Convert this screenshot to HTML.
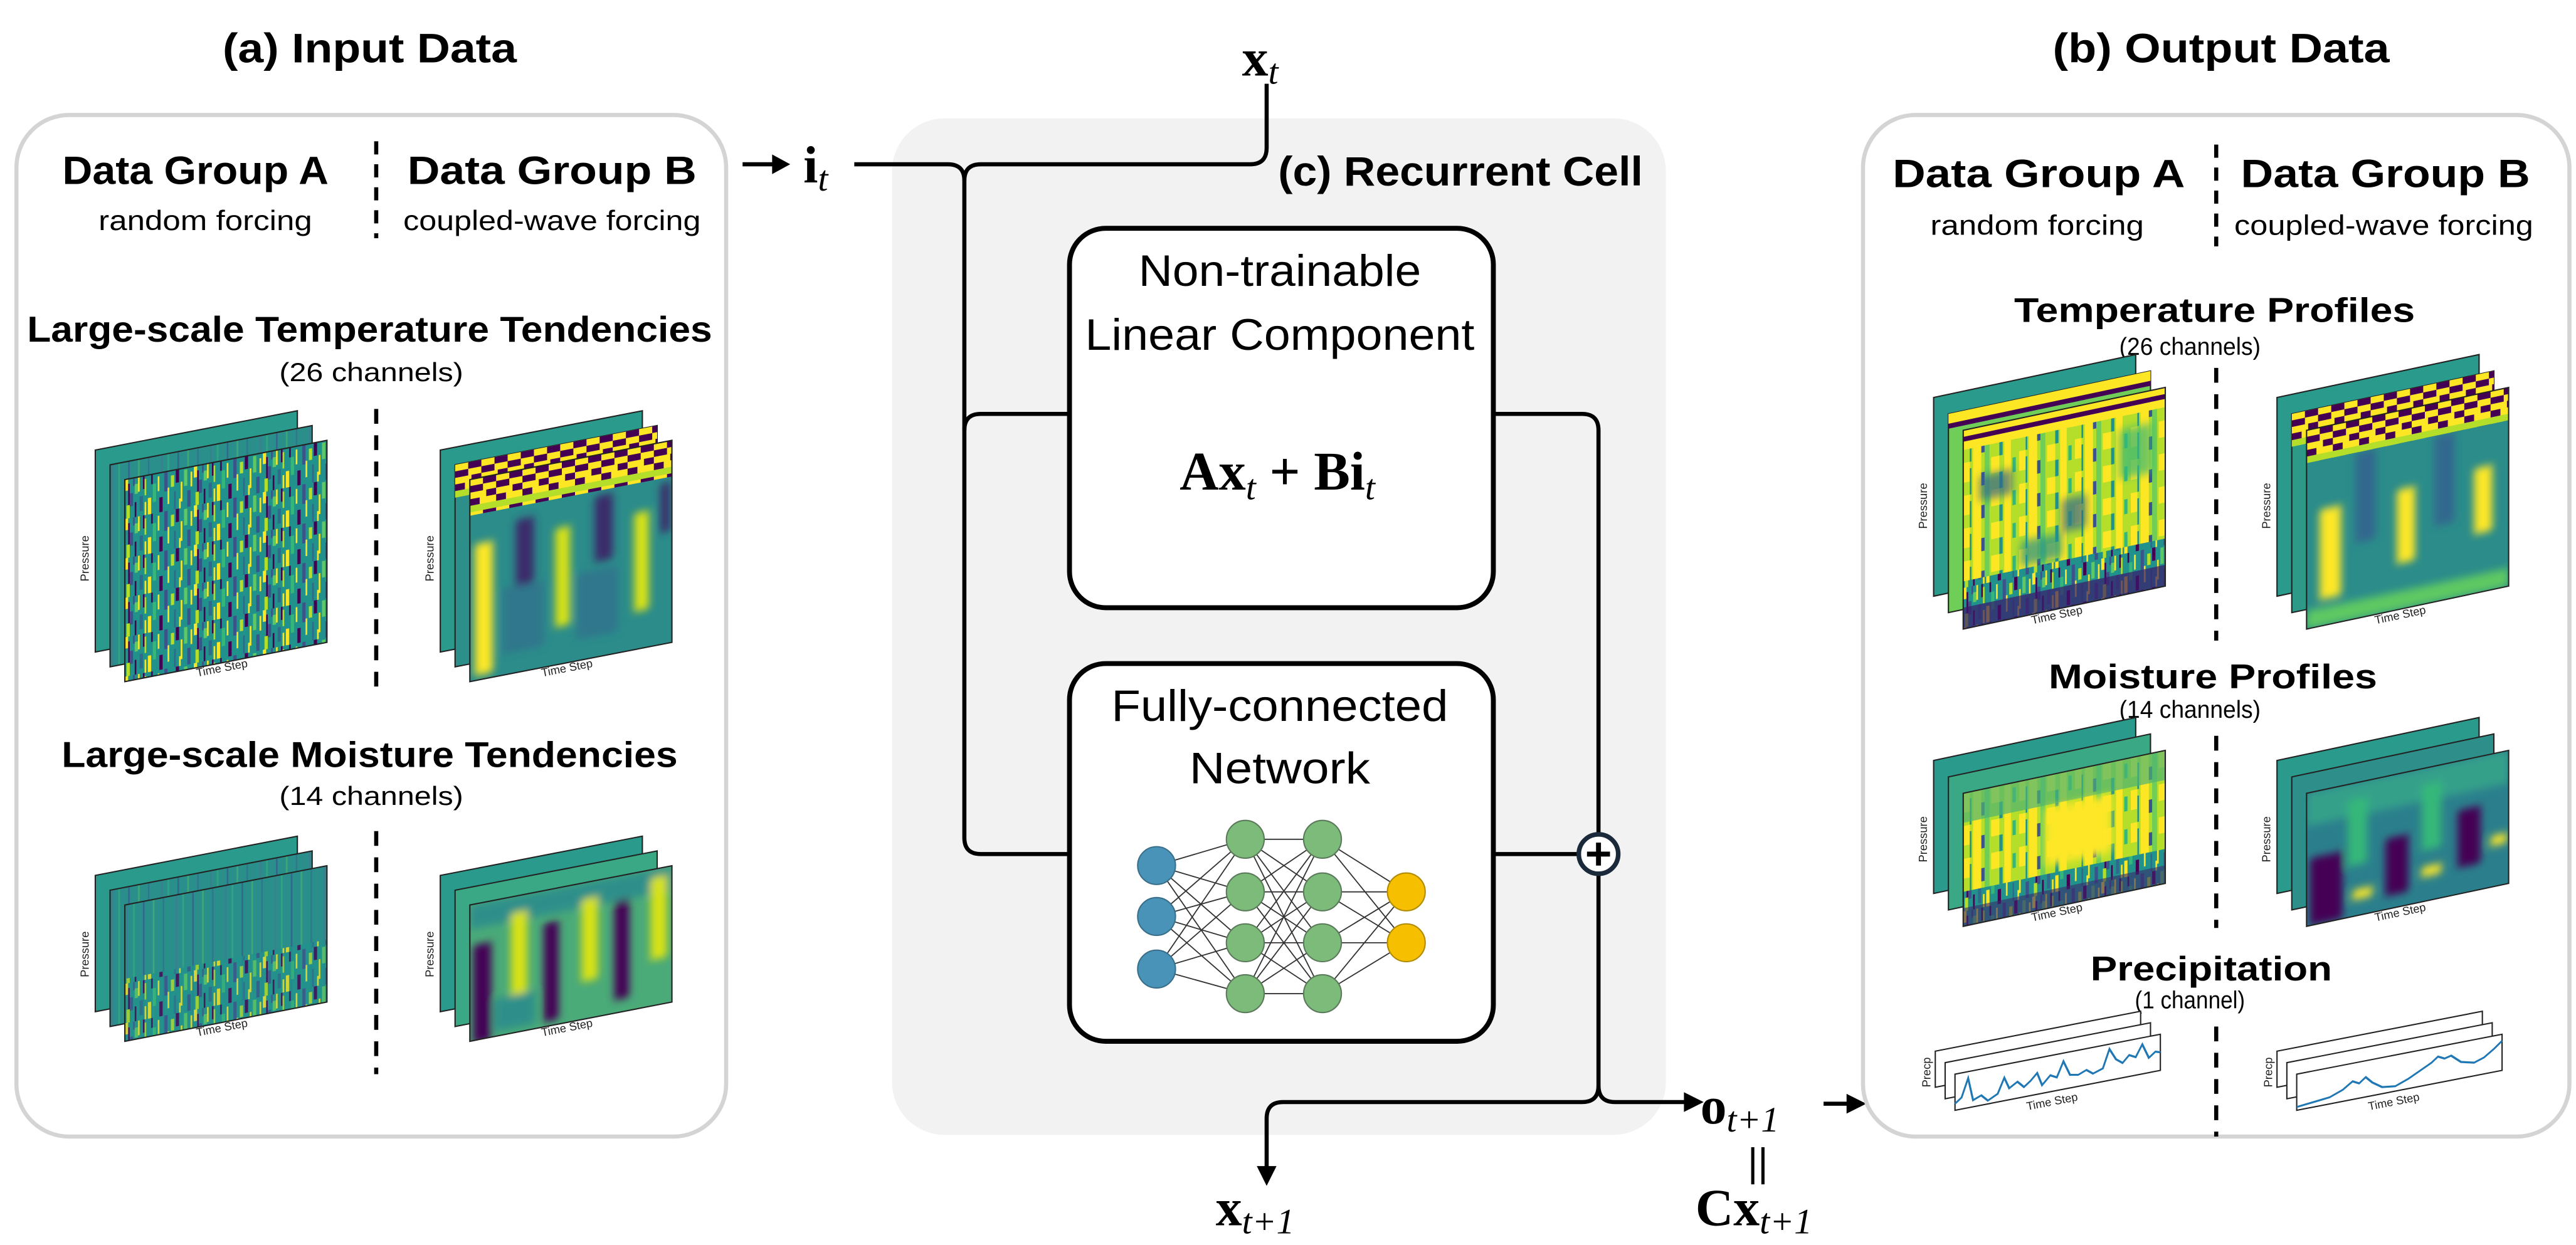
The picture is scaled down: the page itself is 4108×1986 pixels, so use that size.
<!DOCTYPE html>
<html><head><meta charset="utf-8">
<style>
html,body{margin:0;padding:0;background:#fff;}
svg{display:block;}
.t{font-family:"Liberation Sans",sans-serif;}
.b{font-family:"Liberation Sans",sans-serif;font-weight:bold;}
.m{font-family:"Liberation Serif",serif;font-weight:bold;}
.mi{font-family:"Liberation Serif",serif;font-style:italic;}
.ax{font-family:"Liberation Sans",sans-serif;font-size:7px;fill:#222;}
</style></head>
<body>
<svg width="4108" height="1986" viewBox="0 0 1568 758" xmlns="http://www.w3.org/2000/svg">
<defs>
  <pattern id="noise" width="42" height="24" patternUnits="userSpaceOnUse">
    <rect width="42" height="24" fill="#21918c"/>
    <rect x="0" width="2" height="7" fill="#fde725"/><rect x="2" y="3" width="1" height="13" fill="#440154"/>
    <rect x="3" y="9" width="2" height="8" fill="#3b528b"/><rect x="5" width="1" height="5" fill="#3b528b"/>
    <rect x="6" y="4" width="2" height="6" fill="#5ec962"/><rect x="8" width="1" height="9" fill="#fde725"/>
    <rect x="9" y="12" width="2" height="9" fill="#31688e"/><rect x="11" width="1" height="8" fill="#440154"/>
    <rect x="12" y="2" width="1" height="10" fill="#b5de2b"/><rect x="14" y="14" width="2" height="10" fill="#fde725"/>
    <rect x="16" y="0" width="1" height="6" fill="#440154"/><rect x="17" y="6" width="2" height="11" fill="#35b779"/>
    <rect x="20" y="2" width="1" height="9" fill="#fde725"/><rect x="21" y="15" width="2" height="9" fill="#440154"/>
    <rect x="24" y="0" width="2" height="12" fill="#3b528b"/><rect x="26" y="10" width="1" height="10" fill="#fde725"/>
    <rect x="28" y="3" width="2" height="7" fill="#b5de2b"/><rect x="30" y="13" width="1" height="11" fill="#31688e"/>
    <rect x="31" y="0" width="2" height="8" fill="#440154"/><rect x="34" y="8" width="1" height="12" fill="#fde725"/>
    <rect x="36" y="1" width="2" height="10" fill="#5ec962"/><rect x="38" y="14" width="2" height="10" fill="#3b528b"/>
    <rect x="40" y="3" width="1" height="9" fill="#fde725"/>
    <rect x="1" y="16" width="2" height="8" fill="#b5de2b"/><rect x="6" y="15" width="1" height="9" fill="#440154"/>
    <rect x="12" y="16" width="1" height="8" fill="#fde725"/><rect x="33" y="18" width="1" height="6" fill="#fde725"/>
  </pattern>
  <pattern id="noiseL" width="30" height="12" patternUnits="userSpaceOnUse">
    <rect width="30" height="12" fill="#2a8f8a"/>
    <rect x="1" width="1" height="12" fill="#3b7f8f"/><rect x="5" width="1" height="12" fill="#35b779" opacity=".5"/>
    <rect x="11" width="1" height="12" fill="#31688e"/><rect x="17" width="1" height="12" fill="#5ec962" opacity=".4"/>
    <rect x="23" width="1" height="12" fill="#31688e" opacity=".6"/>
  </pattern>
  <pattern id="noiseY" width="34" height="20" patternUnits="userSpaceOnUse">
    <rect width="34" height="20" fill="#b5de2b"/>
    <rect x="0" width="4" height="12" fill="#fde725"/><rect x="4" y="4" width="1" height="16" fill="#21918c"/>
    <rect x="6" width="5" height="20" fill="#fde725"/><rect x="11" y="8" width="2" height="8" fill="#3b528b"/>
    <rect x="13" width="3" height="20" fill="#6ece58"/><rect x="17" width="5" height="10" fill="#fde725"/>
    <rect x="22" y="10" width="2" height="10" fill="#21918c"/><rect x="25" width="4" height="20" fill="#fde725"/>
    <rect x="30" y="3" width="2" height="9" fill="#35b779"/>
  </pattern>
  <pattern id="band" width="16" height="20" patternUnits="userSpaceOnUse">
    <rect width="16" height="20" fill="#21918c"/>
    <rect y="0" width="8" height="4" fill="#fde725"/><rect x="8" y="0" width="8" height="4" fill="#440154"/>
    <rect y="4" width="8" height="4" fill="#440154"/><rect x="8" y="4" width="8" height="4" fill="#fde725"/>
    <rect y="8" width="10" height="4" fill="#fde725"/><rect x="10" y="8" width="6" height="4" fill="#440154"/>
    <rect y="12" width="6" height="4" fill="#440154"/><rect x="6" y="12" width="10" height="4" fill="#fde725"/>
    <rect y="16" width="16" height="4" fill="#b5de2b"/>
  </pattern>
  <filter id="bl" x="-0.2" y="-0.2" width="1.4" height="1.4"><feGaussianBlur stdDeviation="2.5"/></filter>
</defs>

<!-- ===== Left box ===== -->
<rect x="10" y="70" width="432" height="622" rx="32" fill="#fff" stroke="#d4d4d4" stroke-width="2.5"/>
<text class="b" x="225" y="38" font-size="25" text-anchor="middle" textLength="179" lengthAdjust="spacingAndGlyphs">(a) Input Data</text>
<text class="b" x="119" y="112" font-size="24" text-anchor="middle" textLength="162" lengthAdjust="spacingAndGlyphs">Data Group A</text>
<text class="t" x="125" y="140" font-size="17" text-anchor="middle" textLength="130" lengthAdjust="spacingAndGlyphs">random forcing</text>
<text class="b" x="336" y="112" font-size="24" text-anchor="middle" textLength="176" lengthAdjust="spacingAndGlyphs">Data Group B</text>
<text class="t" x="336" y="140" font-size="17" text-anchor="middle" textLength="181" lengthAdjust="spacingAndGlyphs">coupled-wave forcing</text>
<line x1="229" y1="86" x2="229" y2="145" stroke="#000" stroke-width="2.5" stroke-dasharray="8,6"/>
<text class="b" x="225" y="208" font-size="22" text-anchor="middle" textLength="417" lengthAdjust="spacingAndGlyphs">Large-scale Temperature Tendencies</text>
<text class="t" x="226" y="232" font-size="16" text-anchor="middle" textLength="112" lengthAdjust="spacingAndGlyphs">(26 channels)</text>
<line x1="229" y1="249" x2="229" y2="418" stroke="#000" stroke-width="2.5" stroke-dasharray="9,7"/>
<text class="b" x="225" y="467" font-size="22" text-anchor="middle" textLength="375" lengthAdjust="spacingAndGlyphs">Large-scale Moisture Tendencies</text>
<text class="t" x="226" y="490" font-size="16" text-anchor="middle" textLength="112" lengthAdjust="spacingAndGlyphs">(14 channels)</text>
<line x1="229" y1="506" x2="229" y2="654" stroke="#000" stroke-width="2.5" stroke-dasharray="9,7"/>

<!-- Input temp A -->
<g transform="translate(58,274)">
  <g transform="skewY(-11)"><rect width="123" height="123" fill="#2a9a8c" stroke="#222" stroke-width=".8"/></g>
  <g transform="translate(9,9) skewY(-11)"><rect width="123" height="123" fill="url(#noiseL)" stroke="#222" stroke-width=".8"/></g>
  <g transform="translate(18,18) skewY(-11)"><rect width="123" height="123" fill="url(#noise)" stroke="#222" stroke-width=".8"/></g>
  <text class="ax" transform="translate(-4,80) rotate(-90)">Pressure</text>
  <text class="ax" transform="translate(62,138) rotate(-11)">Time Step</text>
</g>
<!-- Input temp B -->
<g transform="translate(268,274)">
  <g transform="skewY(-11)"><rect width="123" height="123" fill="#2a9a8c" stroke="#222" stroke-width=".8"/></g>
  <g transform="translate(9,9) skewY(-11)"><rect width="123" height="123" fill="#2d8f8a" stroke="#222" stroke-width=".8"/><rect width="123" height="20" fill="url(#band)"/></g>
  <g transform="translate(18,18) skewY(-11)">
    <svg width="123" height="123" overflow="hidden">
      <rect width="123" height="123" fill="#2b8c8a"/>
      <g filter="url(#bl)">
        <rect x="3" y="40" width="11" height="80" fill="#fde725"/>
        <rect x="52" y="40" width="9" height="60" fill="#d8e219"/>
        <rect x="100" y="40" width="9" height="60" fill="#d8e219"/>
        <rect x="28" y="30" width="11" height="40" fill="#3b2a6b"/>
        <rect x="76" y="25" width="11" height="40" fill="#3b2a6b"/>
        <rect x="116" y="25" width="6" height="30" fill="#3b2a6b"/>
        <rect x="20" y="70" width="25" height="40" fill="#31688e" opacity=".6"/>
        <rect x="65" y="70" width="25" height="40" fill="#31688e" opacity=".6"/>
      </g>
      <rect width="123" height="22" fill="url(#band)"/>
    </svg>
    <rect width="123" height="123" fill="none" stroke="#222" stroke-width=".8"/>
  </g>
  <text class="ax" transform="translate(-4,80) rotate(-90)">Pressure</text>
  <text class="ax" transform="translate(62,138) rotate(-11)">Time Step</text>
</g>
<!-- Input moist A -->
<g transform="translate(58,533)">
  <g transform="skewY(-11)"><rect width="123" height="83" fill="#2a9a8c" stroke="#222" stroke-width=".8"/></g>
  <g transform="translate(9,9) skewY(-11)"><rect width="123" height="83" fill="url(#noiseL)" stroke="#222" stroke-width=".8"/></g>
  <g transform="translate(18,18) skewY(-11)">
    <rect width="123" height="83" fill="url(#noiseL)"/>
    <rect y="45" width="123" height="38" fill="url(#noise)" opacity=".8"/>
    <rect width="123" height="83" fill="none" stroke="#222" stroke-width=".8"/>
  </g>
  <text class="ax" transform="translate(-4,62) rotate(-90)">Pressure</text>
  <text class="ax" transform="translate(62,98) rotate(-11)">Time Step</text>
</g>
<!-- Input moist B -->
<g transform="translate(268,533)">
  <g transform="skewY(-11)"><rect width="123" height="83" fill="#2a9a8c" stroke="#222" stroke-width=".8"/></g>
  <g transform="translate(9,9) skewY(-11)"><rect width="123" height="83" fill="#3aa884" stroke="#222" stroke-width=".8"/></g>
  <g transform="translate(18,18) skewY(-11)">
    <svg width="123" height="83" overflow="hidden">
      <rect width="123" height="83" fill="#4aaa78"/>
      <g filter="url(#bl)">
        <rect x="0" y="0" width="123" height="15" fill="#2e8f8a"/>
        <rect x="2" y="25" width="11" height="60" fill="#440154"/>
        <rect x="45" y="20" width="9" height="60" fill="#440154"/>
        <rect x="88" y="15" width="9" height="60" fill="#440154"/>
        <rect x="25" y="10" width="10" height="50" fill="#d8e219"/>
        <rect x="68" y="10" width="10" height="50" fill="#d8e219"/>
        <rect x="110" y="5" width="10" height="50" fill="#d8e219"/>
        <rect x="15" y="60" width="25" height="20" fill="#2e8f8a"/>
      </g>
    </svg>
    <rect width="123" height="83" fill="none" stroke="#222" stroke-width=".8"/>
  </g>
  <text class="ax" transform="translate(-4,62) rotate(-90)">Pressure</text>
  <text class="ax" transform="translate(62,98) rotate(-11)">Time Step</text>
</g>

<!-- ===== Middle ===== -->
<rect x="543" y="72" width="471" height="619" rx="32" fill="#f2f2f2"/>
<text class="b" x="889" y="113" font-size="25" text-anchor="middle" textLength="222" lengthAdjust="spacingAndGlyphs">(c) Recurrent Cell</text>

<!-- i_t -->
<line x1="452" y1="100" x2="472" y2="100" stroke="#000" stroke-width="2.5"/>
<path d="M470,94 L481,100 L470,106 Z" fill="#000"/>
<text x="489" y="111" font-size="32"><tspan class="m">i</tspan><tspan class="mi" font-size="22" dy="5">t</tspan></text>
<!-- x_t -->
<text x="756" y="46" font-size="32"><tspan class="m">x</tspan><tspan class="mi" font-size="22" dy="5">t</tspan></text>

<g fill="none" stroke="#000" stroke-width="2.5">
  <path d="M520,100 H577 Q587,100 587,110 V510 Q587,520 597,520 H651"/>
  <path d="M587,262 Q587,252 597,252 H651"/>
  <path d="M771,51 V90 Q771,100 761,100 H597 Q587,100 587,110"/>
  <path d="M909,252 H963 Q973,252 973,262 V661 Q973,671 963,671 H781 Q771,671 771,681 V713"/>
  <path d="M909,520 H961"/>
  <path d="M973,661 Q973,671 983,671 H1027"/>
</g>
<path d="M765,710 L771,722 L777,710 Z" fill="#000"/>
<path d="M1025,665 L1037,671 L1025,677 Z" fill="#000"/>
<circle cx="973" cy="520" r="12" fill="#fff" stroke="#1a2a3a" stroke-width="2.8"/>
<path d="M966,520 H980 M973,513 V527" stroke="#000" stroke-width="3"/>

<!-- Linear box -->
<rect x="651" y="139" width="258" height="231" rx="22" fill="#fff" stroke="#000" stroke-width="3"/>
<text class="t" x="779" y="174" font-size="27" text-anchor="middle" textLength="172" lengthAdjust="spacingAndGlyphs">Non-trainable</text>
<text class="t" x="779" y="213" font-size="27" text-anchor="middle" textLength="237" lengthAdjust="spacingAndGlyphs">Linear Component</text>
<text x="718" y="298" font-size="33"><tspan class="m">Ax</tspan><tspan class="mi" font-size="22" dy="6">t</tspan><tspan class="m" dy="-6"> + Bi</tspan><tspan class="mi" font-size="22" dy="6">t</tspan></text>

<!-- FC box -->
<rect x="651" y="404" width="258" height="230" rx="22" fill="#fff" stroke="#000" stroke-width="3"/>
<text class="t" x="779" y="439" font-size="27" text-anchor="middle" textLength="205" lengthAdjust="spacingAndGlyphs">Fully-connected</text>
<text class="t" x="779" y="477" font-size="27" text-anchor="middle" textLength="110" lengthAdjust="spacingAndGlyphs">Network</text>
<g stroke="#333" stroke-width=".7">
  <path d="M704,527 L758,511 M704,527 L758,543 M704,527 L758,574 M704,527 L758,605 M704,558 L758,511 M704,558 L758,543 M704,558 L758,574 M704,558 L758,605 M704,590 L758,511 M704,590 L758,543 M704,590 L758,574 M704,590 L758,605"/>
  <path d="M758,511 L805,511 M758,511 L805,543 M758,511 L805,574 M758,511 L805,605 M758,543 L805,511 M758,543 L805,543 M758,543 L805,574 M758,543 L805,605 M758,574 L805,511 M758,574 L805,543 M758,574 L805,574 M758,574 L805,605 M758,605 L805,511 M758,605 L805,543 M758,605 L805,574 M758,605 L805,605"/>
  <path d="M805,511 L856,543 M805,511 L856,574 M805,543 L856,543 M805,543 L856,574 M805,574 L856,543 M805,574 L856,574 M805,605 L856,543 M805,605 L856,574"/>
</g>
<g stroke="#5a7a5a" stroke-width=".8">
  <circle cx="704" cy="527" r="11.5" fill="#4a93b8" stroke="#3a6f8a"/>
  <circle cx="704" cy="558" r="11.5" fill="#4a93b8" stroke="#3a6f8a"/>
  <circle cx="704" cy="590" r="11.5" fill="#4a93b8" stroke="#3a6f8a"/>
  <circle cx="758" cy="511" r="11.5" fill="#7dbb7a"/><circle cx="758" cy="543" r="11.5" fill="#7dbb7a"/>
  <circle cx="758" cy="574" r="11.5" fill="#7dbb7a"/><circle cx="758" cy="605" r="11.5" fill="#7dbb7a"/>
  <circle cx="805" cy="511" r="11.5" fill="#7dbb7a"/><circle cx="805" cy="543" r="11.5" fill="#7dbb7a"/>
  <circle cx="805" cy="574" r="11.5" fill="#7dbb7a"/><circle cx="805" cy="605" r="11.5" fill="#7dbb7a"/>
  <circle cx="856" cy="543" r="11.5" fill="#f6c000" stroke="#b08a00"/>
  <circle cx="856" cy="574" r="11.5" fill="#f6c000" stroke="#b08a00"/>
</g>

<!-- bottom labels -->
<text x="740" y="746" font-size="32"><tspan class="m">x</tspan><tspan class="mi" font-size="22" dy="5">t+1</tspan></text>
<text x="1035" y="684" font-size="32"><tspan class="m">o</tspan><tspan class="mi" font-size="22" dy="5">t+1</tspan></text>
<text class="t" x="1070" y="716" font-size="24" text-anchor="middle">||</text>
<text x="1032" y="746" font-size="32"><tspan class="m">Cx</tspan><tspan class="mi" font-size="22" dy="5">t+1</tspan></text>
<line x1="1110" y1="672" x2="1126" y2="672" stroke="#000" stroke-width="2.5"/>
<path d="M1124,666 L1136,672 L1124,678 Z" fill="#000"/>

<!-- ===== Right box ===== -->
<rect x="1134" y="70" width="430" height="622" rx="32" fill="#fff" stroke="#d4d4d4" stroke-width="2.5"/>
<text class="b" x="1352" y="38" font-size="25" text-anchor="middle" textLength="205" lengthAdjust="spacingAndGlyphs">(b) Output Data</text>
<text class="b" x="1241" y="114" font-size="24" text-anchor="middle" textLength="178" lengthAdjust="spacingAndGlyphs">Data Group A</text>
<text class="t" x="1240" y="143" font-size="17" text-anchor="middle" textLength="130" lengthAdjust="spacingAndGlyphs">random forcing</text>
<text class="b" x="1452" y="114" font-size="24" text-anchor="middle" textLength="176" lengthAdjust="spacingAndGlyphs">Data Group B</text>
<text class="t" x="1451" y="143" font-size="17" text-anchor="middle" textLength="182" lengthAdjust="spacingAndGlyphs">coupled-wave forcing</text>
<line x1="1349" y1="88" x2="1349" y2="150" stroke="#000" stroke-width="2.5" stroke-dasharray="8,6"/>
<text class="b" x="1348" y="196" font-size="21" text-anchor="middle" textLength="244" lengthAdjust="spacingAndGlyphs">Temperature Profiles</text>
<text class="t" x="1333" y="216" font-size="15" text-anchor="middle" textLength="86" lengthAdjust="spacingAndGlyphs">(26 channels)</text>
<line x1="1349" y1="224" x2="1349" y2="390" stroke="#000" stroke-width="2.5" stroke-dasharray="9,7"/>
<text class="b" x="1347" y="419" font-size="21" text-anchor="middle" textLength="200" lengthAdjust="spacingAndGlyphs">Moisture Profiles</text>
<text class="t" x="1333" y="437" font-size="15" text-anchor="middle" textLength="86" lengthAdjust="spacingAndGlyphs">(14 channels)</text>
<line x1="1349" y1="448" x2="1349" y2="565" stroke="#000" stroke-width="2.5" stroke-dasharray="9,7"/>
<text class="b" x="1346" y="597" font-size="21" text-anchor="middle" textLength="147" lengthAdjust="spacingAndGlyphs">Precipitation</text>
<text class="t" x="1333" y="614" font-size="15" text-anchor="middle" textLength="67" lengthAdjust="spacingAndGlyphs">(1 channel)</text>
<line x1="1349" y1="625" x2="1349" y2="692" stroke="#000" stroke-width="2.5" stroke-dasharray="9,7"/>

<!-- Output temp A -->
<g transform="translate(1177,242)">
  <g transform="skewY(-12)"><rect width="123" height="121" fill="#2a9a8c" stroke="#222" stroke-width=".8"/></g>
  <g transform="translate(9,10) skewY(-12)"><rect width="123" height="121" fill="#6ece58" stroke="#222" stroke-width=".8"/><rect width="123" height="6" fill="#fde725"/><rect y="6" width="123" height="3" fill="#440154"/></g>
  <g transform="translate(18,20) skewY(-12)">
    <svg width="123" height="121" overflow="hidden">
    <rect width="123" height="121" fill="url(#noiseY)"/>
    <g filter="url(#bl)" opacity=".7">
      <rect x="10" y="30" width="20" height="15" fill="#31688e"/>
      <rect x="60" y="55" width="15" height="20" fill="#31688e"/>
      <rect x="95" y="20" width="20" height="30" fill="#35b779"/>
      <rect x="35" y="75" width="25" height="15" fill="#21918c"/>
    </g>
    <rect y="92" width="123" height="29" fill="url(#noise)"/>
    <rect y="108" width="123" height="13" fill="#3b1a6b" opacity=".7"/>
    <rect width="123" height="4" fill="#fde725"/><rect y="4" width="123" height="3" fill="#440154"/><rect y="7" width="123" height="5" fill="#fde725"/>
    </svg>
    <rect width="123" height="121" fill="none" stroke="#222" stroke-width=".8"/>
  </g>
  <text class="ax" transform="translate(-4,80) rotate(-90)">Pressure</text>
  <text class="ax" transform="translate(60,138) rotate(-12)">Time Step</text>
</g>
<!-- Output temp B -->
<g transform="translate(1386,242)">
  <g transform="skewY(-12)"><rect width="123" height="121" fill="#2a9a8c" stroke="#222" stroke-width=".8"/></g>
  <g transform="translate(9,10) skewY(-12)"><rect width="123" height="121" fill="#2d9a88" stroke="#222" stroke-width=".8"/><rect width="123" height="20" fill="url(#band)"/></g>
  <g transform="translate(18,20) skewY(-12)">
    <svg width="123" height="121" overflow="hidden">
      <rect width="123" height="121" fill="#2b8c8a"/>
      <g filter="url(#bl)">
        <rect x="8" y="50" width="13" height="55" fill="#fde725"/>
        <rect x="55" y="48" width="11" height="45" fill="#fde725"/>
        <rect x="102" y="45" width="11" height="40" fill="#fde725"/>
        <rect x="30" y="20" width="12" height="55" fill="#31688e"/>
        <rect x="78" y="20" width="12" height="55" fill="#31688e"/>
        <rect x="0" y="110" width="123" height="11" fill="#5ec962"/>
      </g>
      <rect width="123" height="20" fill="url(#band)"/>
    </svg>
    <rect width="123" height="121" fill="none" stroke="#222" stroke-width=".8"/>
  </g>
  <text class="ax" transform="translate(-4,80) rotate(-90)">Pressure</text>
  <text class="ax" transform="translate(60,138) rotate(-12)">Time Step</text>
</g>
<!-- Output moist A -->
<g transform="translate(1177,463)">
  <g transform="skewY(-12)"><rect width="123" height="81" fill="#2a9a8c" stroke="#222" stroke-width=".8"/></g>
  <g transform="translate(9,10) skewY(-12)"><rect width="123" height="81" fill="#3aa884" stroke="#222" stroke-width=".8"/></g>
  <g transform="translate(18,20) skewY(-12)">
    <svg width="123" height="81" overflow="hidden">
      <rect width="123" height="81" fill="url(#noiseY)"/>
      <rect width="123" height="18" fill="#4cb474" opacity=".7"/>
      <rect x="50" y="20" width="40" height="35" fill="#fde725" filter="url(#bl)"/>
      <rect y="60" width="123" height="21" fill="url(#noise)"/>
      <rect y="70" width="123" height="11" fill="#3b2a6b" opacity=".6"/>
    </svg>
    <rect width="123" height="81" fill="none" stroke="#222" stroke-width=".8"/>
  </g>
  <text class="ax" transform="translate(-4,62) rotate(-90)">Pressure</text>
  <text class="ax" transform="translate(60,98) rotate(-12)">Time Step</text>
</g>
<!-- Output moist B -->
<g transform="translate(1386,463)">
  <g transform="skewY(-12)"><rect width="123" height="81" fill="#2a9a8c" stroke="#222" stroke-width=".8"/></g>
  <g transform="translate(9,10) skewY(-12)"><rect width="123" height="81" fill="#2e8f8a" stroke="#222" stroke-width=".8"/></g>
  <g transform="translate(18,20) skewY(-12)">
    <svg width="123" height="81" overflow="hidden">
      <rect width="123" height="81" fill="#2b7f8c"/>
      <g filter="url(#bl)">
        <rect x="0" y="0" width="123" height="20" fill="#35a08a"/>
        <rect x="2" y="40" width="20" height="41" fill="#440154"/>
        <rect x="48" y="38" width="14" height="35" fill="#440154"/>
        <rect x="92" y="30" width="14" height="35" fill="#440154"/>
        <rect x="25" y="10" width="12" height="40" fill="#35b779"/>
        <rect x="70" y="10" width="12" height="40" fill="#35b779"/>
        <rect x="28" y="65" width="12" height="6" fill="#fde725"/>
        <rect x="70" y="60" width="12" height="6" fill="#fde725"/>
        <rect x="112" y="50" width="10" height="6" fill="#fde725"/>
      </g>
    </svg>
    <rect width="123" height="81" fill="none" stroke="#222" stroke-width=".8"/>
  </g>
  <text class="ax" transform="translate(-4,62) rotate(-90)">Pressure</text>
  <text class="ax" transform="translate(60,98) rotate(-12)">Time Step</text>
</g>
<!-- Precip A -->
<g transform="translate(1178,640)">
  <g transform="skewY(-11)"><rect width="125" height="22" fill="#fff" stroke="#222" stroke-width=".8"/></g>
  <g transform="translate(6,7) skewY(-11)"><rect width="125" height="22" fill="#fff" stroke="#222" stroke-width=".8"/></g>
  <g transform="translate(12,14) skewY(-11)">
    <rect width="125" height="22" fill="#fff" stroke="#222" stroke-width=".8"/>
    <polyline fill="none" stroke="#1f77b4" stroke-width="1.2" points="0,18 4,15 8,4 11,18 16,16 20,20 26,17 30,8 33,15 38,12 42,16 46,13 50,9 53,17 58,12 62,14 66,5 70,14 75,15 80,13 84,16 90,14 94,3 98,10 102,13 106,9 110,11 114,4 118,13 122,10 125,11"/>
  </g>
  <text class="ax" transform="translate(-3,22) rotate(-90)">Precp</text>
  <text class="ax" transform="translate(56,36) rotate(-11)">Time Step</text>
</g>
<!-- Precip B -->
<g transform="translate(1386,640)">
  <g transform="skewY(-11)"><rect width="125" height="22" fill="#fff" stroke="#222" stroke-width=".8"/></g>
  <g transform="translate(6,7) skewY(-11)"><rect width="125" height="22" fill="#fff" stroke="#222" stroke-width=".8"/></g>
  <g transform="translate(12,14) skewY(-11)">
    <rect width="125" height="22" fill="#fff" stroke="#222" stroke-width=".8"/>
    <polyline fill="none" stroke="#1f77b4" stroke-width="1.2" points="0,20 10,19 20,18 28,15 34,11 38,13 42,10 46,14 52,18 60,19 68,16 76,12 82,9 86,6 90,8 94,7 100,12 108,14 114,12 120,8 125,4"/>
  </g>
  <text class="ax" transform="translate(-3,22) rotate(-90)">Precp</text>
  <text class="ax" transform="translate(56,36) rotate(-11)">Time Step</text>
</g>
</svg>
</body></html>
